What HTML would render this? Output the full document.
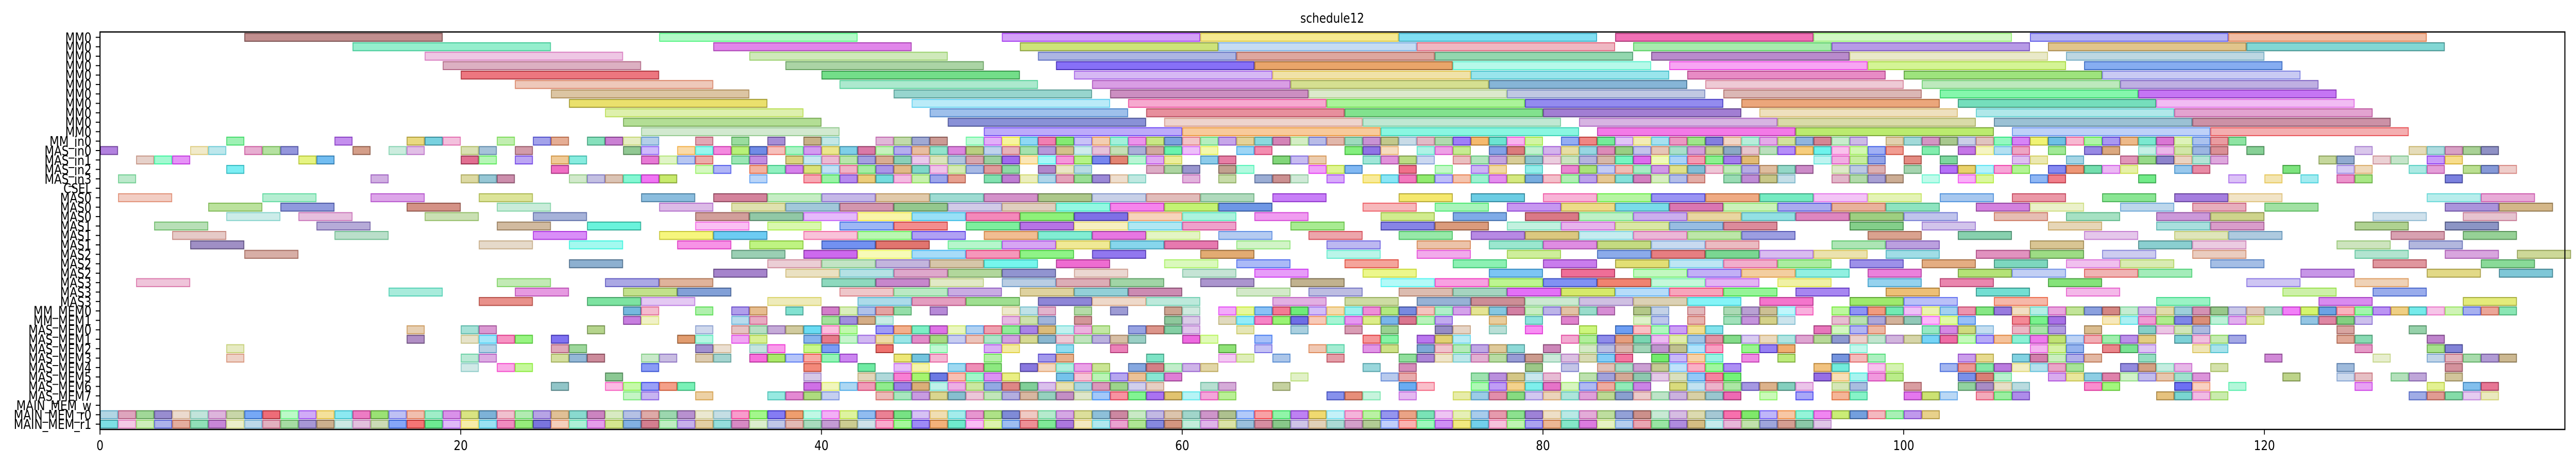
<!DOCTYPE html>
<html><head><meta charset="utf-8">
<style>
html,body{margin:0;padding:0;background:#fff;width:100%;height:100%;overflow:hidden;}
svg{display:block;width:100vw;height:100vh;overflow:hidden;font-family:"DejaVu Sans","Liberation Sans",sans-serif;}
</style></head>
<body>
<svg id="chart" viewBox="0 0 6027 900" preserveAspectRatio="none" xmlns="http://www.w3.org/2000/svg">
<text x="3117" y="44" font-size="26" text-anchor="middle">schedule12</text>
<g id="bars"></g>
<g id="axes"></g>
</svg>
<script>
const rowLabels = ["MM0","MM0","MM0","MM0","MM0","MM0","MM0","MM0","MM0","MM0","MM0","MM_in0","MAS_in0","MAS_in1","MAS_in2","MAS_in3","CSEL","MAS0","MAS0","MAS0","MAS1","MAS1","MAS1","MAS2","MAS2","MAS2","MAS3","MAS3","MAS3","MM_MEM0","MM_MEM1","MAS_MEM0","MAS_MEM1","MAS_MEM2","MAS_MEM3","MAS_MEM4","MAS_MEM5","MAS_MEM6","MAS_MEM7","MAIN_MEM_w","MAIN_MEM_r0","MAIN_MEM_r1"];
const xTicks = [0,20,40,60,80,100,120];
const mmLen = 11;
const mmStarts = [
[8,31,50,61,72,84,95,107,118],
[14,34,51,62,73,85,96,108,119],
[18,36,52,63,74,86,97,109],
[19,38,53,64,75,87,98,110],
[20,40,54,65,76,88,100,111],
[23,41,55,66,77,89,101,112],
[25,44,56,67,78,90,102,113],
[26,45,57,68,79,91,103,114],
[28,46,58,69,80,92,104,115],
[29,47,59,70,82,93,105,116],
[30,49,60,71,83,94,106,117]];
const inRows = [
"7,13,17-19,22,24-25,27-30,33,35,37,39-40,43-46,48-79,81-97,99-118",
"0,5-6,8-10,14,16-17,20-21,23,29-30,32-61,63-64,69-71,73-75,77-99,101,103-106,108,110-111,113-117,119,125,128-132",
"2-4,11-12,20-21,23,25-26,30-33,35-36,38-59,61-62,65-67,70-73,75-91,95-98,100,102,106-107,109,112-117,123-124,126-127,129-130",
"7,25,33-34,36-50,52-54,58-60,62-63,67-69,72,74,76-77,79,81-94,96-98,100,102-106,108-112,115-116,121,124-125,128-129,131-133",
"1,15,20-22,26-31,36,39-47,49-57,60,62,64-66,68,70-88,90-93,96-99,101,103-104,107-108,113,118,120,122,124-125,130",
""];
const masLen = 3;
const masStarts = [
[1,9,15,21,30,34,37,40,43,46,49,52,55,58,61,65,72,76,80,83,86,89,92,95,98,102,106,111,115,118,129,132],
[6,10,17,22,31,35,38,41,44,47,50,53,56,59,62,70,74,78,81,84,87,90,93,96,99,104,107,112,116,120,130,133],
[7,11,18,24,33,36,39,42,45,48,51,54,57,60,64,71,75,79,82,85,88,91,94,97,100,105,109,114,117,126,131],
[3,12,22,27,33,37,41,44,48,51,54,57,60,66,71,74,78,81,84,87,90,97,101,108,114,117,125,130],
[4,13,24,31,34,39,42,45,49,52,55,58,62,67,72,76,79,82,85,88,91,98,103,110,115,118,127,131],
[5,21,26,32,36,40,43,47,50,53,56,59,63,68,73,77,80,83,86,89,96,99,107,113,116,124,128],
[8,35,39,42,45,48,51,55,61,68,73,78,83,86,89,92,95,99,104,107,111,116,125,130,134],
[26,37,40,43,46,49,53,59,63,69,75,80,84,87,90,93,97,101,105,109,112,117,126,132],
[34,38,41,44,47,50,54,60,64,70,77,81,85,88,91,94,98,103,106,110,113,122,129,133],
[2,22,28,31,40,43,46,50,53,56,61,66,71,74,77,80,83,86,89,93,98,102,108,119,125],
[16,23,29,32,41,44,47,51,54,57,63,67,72,75,78,81,84,87,90,94,99,104,109,121,126],
[21,27,30,37,42,45,48,52,55,58,65,69,73,76,79,82,85,88,92,97,100,105,114,123,131]];
const memRows = [
"29-30,33,35-36,38,40-44,46,50-52,54,56,59-60,62-83,85-86,88,90-94,96-133",
"29-30,35-36,40-43,50-52,54,59-60,62-74,77,79,81,85-86,88,90-93,96-103,106-108,111-119,122-125",
"17,20-21,27,33,35-41,43-55,57-60,63,66,69,71,74-75,77,79,82,84-89,95-98,101-104,106-108,110,113-116,124,128",
"17,20-23,25,32-33,35-36,39-57,60-61,64,70-71,73-75,81-113,115-118,124-125,129",
"7,21,25-26,33-34,36-37,39-40,43,46,49-50,53,56,62,64,67-68,70-71,73-78,80,82-89,91-93,97,107-109,111-113,116-117,125,129-130",
"7,20-21,25-27,30-31,33-34,36-41,44-46,49,52-53,58,62-63,65,68,72-84,86-89,91,93,96-98,103-104,106-110,113,120,126,129-133",
"20,22-23,30,39,42,44-45,47-49,51-55,57-61,70,72,79,81,83-90,95-96,98-99,102-109,112-115,117,124,130",
"28,39,42-50,53-59,66,71-72,76-80,82-90,95-99,103-105,108-116,121,124-125,127-128,130",
"25,28-32,39-58,61-62,65,72-73,76-85,87-94,96-97,100,103-106,110-111,115-116,118,125,129,131-132",
"29-30,33,37-40,43-62,68-70,72,75-90,92,94,96-97,100-102,104-106,114-117,128-132",
"",
"0-101",
"0-95"];

const X0 = 234, UNIT = 42.2, PLOT_R = 6001, PLOT_T = 62, PLOT_B = 833;
const ROW0 = 72.4, ROWH = 18.3, BARH = 17.4;
function xs(u){ return X0 + u*UNIT; }
function ys(r){ return ROW0 + r*ROWH; }
function parseRuns(s){
  const out=[]; if(!s) return out;
  s.split(',').forEach(p=>{ const q=p.split('-').map(Number); const a=q[0], b=q.length>1?q[1]:q[0]; for(let i=a;i<=b;i++) out.push(i); });
  return out;
}
const NS="http://www.w3.org/2000/svg";
const barsG=document.getElementById('bars');
let ci=0;
function color(i){
  const h=(i*137.508)%360;
  const s=35+((i*53)%55);
  const l=45+((i*29)%35);
  return [h,s,l];
}
function addBar(row,start,len,name){
  const c=color(ci++);
  const r=document.createElementNS(NS,'rect');
  r.setAttribute('x',xs(start)+1);
  r.setAttribute('y',ys(row)-BARH/2+1);
  r.setAttribute('width',len*UNIT-2);
  r.setAttribute('height',BARH-2);
  r.setAttribute('fill',`hsla(${c[0]},${c[1]}%,${c[2]}%,0.62)`);
  r.setAttribute('stroke',`hsla(${c[0]},${c[1]}%,${c[2]-18}%,0.75)`);
  r.setAttribute('stroke-width','2');
  
  
  barsG.appendChild(r);
}
mmStarts.forEach((arr,r)=>arr.forEach(s=>addBar(r,s,mmLen,'mm-task-bar')));
inRows.forEach((str,k)=>parseRuns(str).forEach(s=>addBar(11+k,s,1,'input-task-bar')));
masStarts.forEach((arr,k)=>arr.forEach(s=>addBar(17+k,s,masLen,'mas-task-bar')));
memRows.forEach((str,k)=>parseRuns(str).forEach(s=>addBar(29+k,s,1,'mem-task-bar')));

const ax=document.getElementById('axes');
function el(tag,attrs){ const e=document.createElementNS(NS,tag); for(const k in attrs) e.setAttribute(k,attrs[k]); ax.appendChild(e); return e; }
const frame=el('rect',{x:X0,y:PLOT_T,width:PLOT_R-X0,height:PLOT_B-PLOT_T,fill:'none',stroke:'#000','stroke-width':2.5});


rowLabels.forEach((lab,r)=>{
  const t=el('line',{x1:X0-10,x2:X0,y1:ys(r),y2:ys(r),stroke:'#000','stroke-width':2});
  
  
  const tx=el('text',{x:X0-20,y:ys(r)+9.5,'font-size':26,'text-anchor':'end',fill:'#000'});
  tx.textContent=lab;
  
  
});
xTicks.forEach(v=>{
  const t=el('line',{x1:xs(v),x2:xs(v),y1:PLOT_B,y2:PLOT_B+10,stroke:'#000','stroke-width':2});
  
  
  const tx=el('text',{x:xs(v),y:PLOT_B+40,'font-size':26,'text-anchor':'middle',fill:'#000'});
  tx.textContent=v;
  
  
});
</script>
</body></html>
